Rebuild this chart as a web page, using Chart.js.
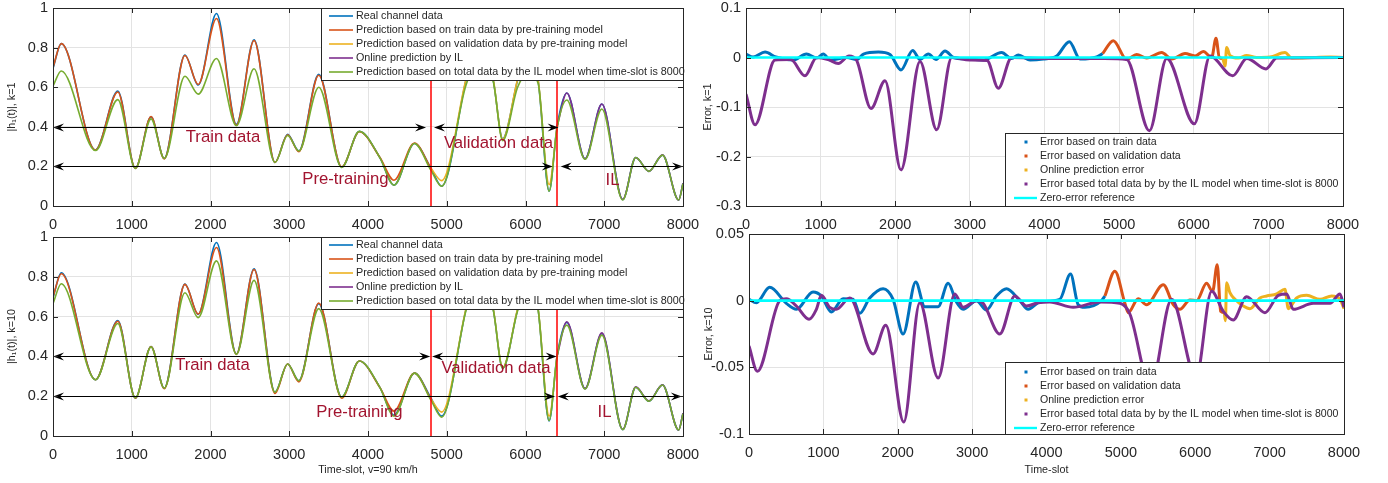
<!DOCTYPE html>
<html>
<head>
<meta charset="utf-8">
<script src="https://cdn.jsdelivr.net/npm/chart.js@4.4.1/dist/chart.umd.min.js"></script>
<style>
    html, body { margin: 0; padding: 0; background: #fff; }
    body { width: 1388px; height: 483px; position: relative; overflow: hidden; }
    .panel { position: absolute; }
</style>
</head>
<body>
<div class="panel" style="left:0;top:0;width:705px;height:232px"><canvas id="channelK1"></canvas></div>
<div class="panel" style="left:0;top:228px;width:705px;height:255px"><canvas id="channelK10"></canvas></div>
<div class="panel" style="left:700px;top:0;width:688px;height:232px"><canvas id="errorK1"></canvas></div>
<div class="panel" style="left:700px;top:228px;width:688px;height:255px"><canvas id="errorK10"></canvas></div>
<script>
// ---- channel amplitude, time-slots of the turning points ----
const trainSlots = [0, 105, 540, 823, 1046, 1245, 1413, 1675, 1844, 2076, 2329, 2553, 2819, 2979, 3122, 3375, 3666, 3890, 4152, 4330, 4590, 4800];
const validSlots = [4800, 4935, 5244, 5400, 5590, 5710, 5900, 6030, 6160, 6300, 6400];
const onlineSlots = [6400, 6525, 6756, 6970, 7235, 7400, 7567, 7740, 7945, 8000];
const allSlots = trainSlots.concat(validSlots.slice(1), onlineSlots.slice(1));

const realChannel = [0.695, 0.82, 0.283, 0.58, 0.19, 0.45, 0.24, 0.763, 0.611, 0.972, 0.412, 0.84, 0.22, 0.362, 0.278, 0.665, 0.195, 0.377, 0.243, 0.105, 0.316, 0.19,
    0.1, 0.636, 0.88, 0.636, 0.34, 0.636, 0.8, 0.636, 0.075, 0.40,
    0.571, 0.238, 0.515, 0.032, 0.245, 0.175, 0.257, 0.03, 0.115];

// k = 1
const trainPredK1 = [0.70, 0.82, 0.283, 0.576, 0.19, 0.452, 0.238, 0.76, 0.614, 0.947, 0.408, 0.836, 0.22, 0.36, 0.274, 0.66, 0.197, 0.375, 0.245, 0.13, 0.318, 0.19];
const validPredK1 = [0.19, 0.128, 0.64, 0.88, 0.64, 0.337, 0.64, 0.8, 0.64, 0.108, 0.40];
const onlinePredK1 = [0.40, 0.571, 0.238, 0.515, 0.033, 0.245, 0.175, 0.258, 0.03, 0.115];
const totalPredK1 = [0.606, 0.682, 0.28, 0.537, 0.19, 0.44, 0.24, 0.655, 0.565, 0.745, 0.405, 0.693, 0.22, 0.356, 0.278, 0.60, 0.195, 0.377, 0.243, 0.105, 0.316, 0.18,
    0.1, 0.61, 0.73, 0.63, 0.33, 0.60, 0.67, 0.62, 0.075, 0.39,
    0.535, 0.236, 0.49, 0.03, 0.245, 0.175, 0.257, 0.03, 0.112];

// k = 10
const trainPredK10 = [0.70, 0.815, 0.283, 0.577, 0.19, 0.45, 0.238, 0.762, 0.613, 0.947, 0.41, 0.837, 0.214, 0.362, 0.272, 0.668, 0.19, 0.377, 0.243, 0.125, 0.316, 0.185];
const validPredK10 = [0.185, 0.12, 0.64, 0.89, 0.64, 0.345, 0.64, 0.81, 0.64, 0.1, 0.40];
const onlinePredK10 = [0.40, 0.574, 0.238, 0.518, 0.033, 0.247, 0.177, 0.257, 0.03, 0.115];
const totalPredK10 = [0.665, 0.765, 0.283, 0.565, 0.192, 0.448, 0.24, 0.72, 0.595, 0.88, 0.41, 0.782, 0.22, 0.362, 0.278, 0.64, 0.195, 0.377, 0.243, 0.1, 0.316, 0.18,
    0.095, 0.63, 0.82, 0.635, 0.34, 0.63, 0.75, 0.636, 0.078, 0.395,
    0.557, 0.236, 0.507, 0.032, 0.245, 0.175, 0.256, 0.03, 0.112];

// ---- prediction errors, k = 1 ----
const trainErrSlotsK1 = [0, 94, 255, 400, 634, 810, 947, 1036, 1126, 1350, 1484, 1574, 1774, 1930, 2077, 2233, 2332, 2443, 2546, 2667, 2780, 2958, 3181, 3426, 3560, 3649, 3806, 3984, 4163, 4333, 4476, 4700, 4780];
const trainErrK1 = [0.007, 0.001, 0.011, 0.001, -0.005, 0.007, -0.001, 0.007, -0.005, 0, -0.004, 0.007, 0.011, 0.006, -0.025, 0.014, -0.004, 0.007, -0.004, 0.013, 0, -0.003, -0.005, 0.01, -0.002, 0.005, -0.005, -0.003, 0.003, 0.032, -0.003, 0.001, 0.008];
const validErrSlotsK1 = [4780, 4922, 5101, 5235, 5369, 5571, 5705, 5883, 6017, 6128, 6240, 6298, 6343, 6390];
const validErrK1 = [0.008, 0.034, -0.004, 0.006, -0.001, 0.01, -0.003, 0.008, 0.003, 0.012, 0, 0.039, 0, -0.002];
const onlineErrSlotsK1 = [6390, 6420, 6441, 6486, 6597, 6709, 6843, 7022, 7223, 7312, 7603, 7826, 8000];
const onlineErrK1 = [-0.002, -0.017, 0.02, 0.004, -0.001, 0.004, 0, 0.001, 0.01, -0.001, 0, 0.001, 0];
const totalErrSlotsK1 = [0, 121, 389, 600, 790, 947, 1100, 1237, 1381, 1480, 1675, 1863, 2077, 2332, 2555, 2757, 3000, 3230, 3381, 3560, 4000, 4800, 5101, 5405, 5638, 6008, 6218, 6522, 6710, 6968, 7111, 8000];
const totalErrK1 = [-0.074, -0.136, -0.005, -0.004, -0.037, 0, -0.004, -0.012, 0.003, -0.005, -0.103, -0.047, -0.227, -0.008, -0.146, 0, -0.005, -0.006, -0.062, 0, -0.002, -0.002, -0.004, -0.148, -0.002, -0.134, 0.003, -0.037, -0.002, -0.023, -0.001, 0];

// ---- prediction errors, k = 10 ----
const trainErrSlotsK10 = [0, 99, 278, 502, 637, 861, 973, 1108, 1265, 1399, 1489, 1623, 1803, 1937, 2072, 2242, 2363, 2543, 2677, 2789, 2879, 3058, 3193, 3327, 3462, 3641, 3753, 3910, 4179, 4323, 4426, 4516, 4740, 4785];
const trainErrK10 = [0.001, -0.0015, 0.01, -0.002, -0.0065, 0.0065, 0.0035, -0.0085, 0.0015, 0.001, -0.0095, 0.002, 0.009, 0.001, -0.025, 0.014, -0.0045, -0.0045, 0.013, -0.001, -0.0065, 0, -0.007, 0.0035, 0.009, 0, -0.0065, -0.001, 0.001, 0.02, -0.003, -0.005, 0, 0.0035];
const validErrSlotsK10 = [4785, 4919, 5054, 5099, 5233, 5345, 5570, 5704, 5794, 5928, 6018, 6152, 6233, 6296, 6341, 6390];
const validErrK10 = [0.0035, 0.022, -0.002, -0.009, 0.0015, -0.003, 0.012, -0.003, -0.0065, 0.0005, 0, 0.013, 0.007, 0.027, -0.008, -0.009];
const onlineErrSlotsK10 = [6390, 6405, 6422, 6466, 6534, 6646, 6735, 6870, 6960, 7094, 7206, 7251, 7363, 7498, 7677, 7834, 7946, 8000];
const onlineErrK10 = [-0.009, -0.015, 0.0135, 0.006, 0.001, -0.004, -0.006, 0.002, 0.0035, 0.005, 0.0085, -0.006, 0.002, 0.004, 0.001, 0.0035, 0.001, -0.006];
const totalErrSlotsK10 = [0, 112, 413, 502, 637, 807, 906, 973, 1085, 1175, 1354, 1668, 1839, 2081, 2296, 2543, 2767, 2879, 3058, 3148, 3372, 3574, 3731, 3888, 4045, 4359, 4717, 4987, 5121, 5400, 5682, 6010, 6220, 6377, 6511, 6691, 6937, 7117, 7229, 7318, 7587, 7812, 7946, 8000];
const totalErrK10 = [-0.034, -0.053, 0, 0.0015, -0.004, -0.014, -0.0065, 0.004, -0.005, -0.0065, 0.002, -0.04, -0.0185, -0.091, -0.0015, -0.058, 0.005, -0.005, 0, -0.002, -0.025, 0.0035, -0.004, -0.0015, -0.001, -0.005, -0.001, -0.002, -0.01, -0.065, 0.001, -0.058, 0.007, -0.008, -0.0145, 0.003, -0.009, 0.004, 0.005, -0.0065, -0.002, -0.002, 0.005, -0.005];

const zeroSlots = [0, 8000];
const zeroErr = [0, 0];

// ---- phase annotations (data units) ----
const splitSlots = [4800, 6400];
const phaseNames = ['Train data', 'Validation data', 'Pre-training', 'IL'];
const arrowLevels = [0.4, 0.4, 0.2, 0.2];
const arrowFromK1 = [0, 4838, 0, 6447];
const arrowToK1 = [4737, 6420, 6346, 8000];
const labelXK1 = [2159, 5657, 3714, 7105];
const labelYK1 = [0.348, 0.318, 0.136, 0.131];
const arrowFromK10 = [0, 4815, 0, 6410];
const arrowToK10 = [4790, 6395, 6375, 7985];
const labelXK10 = [2025, 5625, 3892, 7003];
const labelYK10 = [0.356, 0.341, 0.12, 0.12];

const FONT = '"Liberation Sans", Arial, Helvetica, sans-serif';
const INK = '#262626';
const GRID = '#e3e3e3';
const colors = {
    blue: '#0072BD', orange: '#D95319', yellow: '#EDB120', purple: '#7E2F8E',
    green: '#77AC30', cyan: '#00FFFF', crimson: '#A2142F', red: '#FF0000'
};

function pairs(xs, ys) {
    return xs.map((x, i) => ({ x: x, y: ys[i] }));
}

function arrowHead(ctx, tip, py, dir) {
    ctx.beginPath();
    ctx.moveTo(tip, py);
    ctx.lineTo(tip - dir * 11, py - 4);
    ctx.lineTo(tip - dir * 7, py);
    ctx.lineTo(tip - dir * 11, py + 4);
    ctx.closePath();
    ctx.fill();
}

// red split lines, double arrows and phase names
const phaseMarks = {
    id: 'phaseMarks',
    afterDatasetsDraw(chart, args, o) {
        if (!o || !o.arrowFrom) return;
        const { ctx, chartArea: a, scales: { x, y } } = chart;
        ctx.save();
        ctx.strokeStyle = colors.red;
        ctx.lineWidth = 1.5;
        splitSlots.forEach(v => {
            const px = x.getPixelForValue(v);
            ctx.beginPath();
            ctx.moveTo(px, a.top);
            ctx.lineTo(px, a.bottom);
            ctx.stroke();
        });
        ctx.strokeStyle = '#000';
        ctx.fillStyle = '#000';
        ctx.lineWidth = 1.2;
        o.arrowFrom.forEach((f, i) => {
            const x0 = x.getPixelForValue(f);
            const x1 = x.getPixelForValue(o.arrowTo[i]);
            const py = Math.round(y.getPixelForValue(arrowLevels[i])) + 0.5;
            ctx.beginPath();
            ctx.moveTo(x0 + 6, py);
            ctx.lineTo(x1 - 6, py);
            ctx.stroke();
            arrowHead(ctx, x0, py, -1);
            arrowHead(ctx, x1, py, 1);
        });
        ctx.fillStyle = colors.crimson;
        ctx.font = '16.7px ' + FONT;
        ctx.textAlign = 'center';
        ctx.textBaseline = 'middle';
        phaseNames.forEach((n, i) => {
            ctx.fillText(n, x.getPixelForValue(o.labelX[i]), y.getPixelForValue(o.labelY[i]));
        });
        ctx.restore();
    }
};

// MATLAB style box with inward ticks
const axesBox = {
    id: 'axesBox',
    afterDatasetsDraw(chart) {
        const { ctx, chartArea: a, scales: { x, y } } = chart;
        ctx.save();
        ctx.strokeStyle = INK;
        ctx.lineWidth = 1;
        ctx.beginPath();
        x.ticks.forEach(t => {
            const px = Math.round(x.getPixelForValue(t.value)) + 0.5;
            ctx.moveTo(px, a.bottom); ctx.lineTo(px, a.bottom - 5);
            ctx.moveTo(px, a.top); ctx.lineTo(px, a.top + 5);
        });
        y.ticks.forEach(t => {
            const py = Math.round(y.getPixelForValue(t.value)) + 0.5;
            ctx.moveTo(a.left, py); ctx.lineTo(a.left + 5, py);
            ctx.moveTo(a.right, py); ctx.lineTo(a.right - 5, py);
        });
        ctx.stroke();
        ctx.strokeRect(Math.round(a.left) + 0.5, Math.round(a.top) + 0.5,
            Math.round(a.right - a.left), Math.round(a.bottom - a.top));
        ctx.restore();
    }
};

// boxed legend inside the axes, white background
const boxLegend = {
    id: 'boxLegend',
    afterDraw(chart, args, o) {
        if (!o || !o.width) return;
        const { ctx, chartArea: a } = chart;
        const left = Math.round(a.right - o.width);
        const top = Math.round(o.atBottom ? a.bottom - o.height : a.top);
        ctx.save();
        ctx.fillStyle = '#fff';
        ctx.fillRect(left, top, o.width, o.height);
        ctx.strokeStyle = INK;
        ctx.lineWidth = 1;
        ctx.strokeRect(left + 0.5, top + 0.5, o.width, o.height);
        ctx.font = (o.fontSize || 10.75) + 'px ' + FONT;
        ctx.textBaseline = 'middle';
        ctx.textAlign = 'left';
        chart.data.datasets.forEach((ds, i) => {
            const py = top + o.firstRow + i * o.rowGap;
            ctx.strokeStyle = ds.borderColor;
            ctx.fillStyle = ds.borderColor;
            if (o.dots && !ds.legendLine) {
                ctx.fillRect(left + o.dotX - 1.5, py - 1.5, 3, 3);
            } else {
                ctx.lineWidth = ds.legendWidth || ds.borderWidth;
                ctx.beginPath();
                ctx.moveTo(left + o.lineFrom, py);
                ctx.lineTo(left + o.lineTo, py);
                ctx.stroke();
            }
            ctx.fillStyle = INK;
            ctx.fillText(ds.label, left + o.textX, py);
        });
        ctx.restore();
    }
};

function lineSet(label, data, color, order, width) {
    return {
        label: label, data: data, borderColor: color, backgroundColor: color,
        borderWidth: width, pointRadius: 0, fill: false, order: order,
        cubicInterpolationMode: 'monotone'
    };
}

function xAxis(axisHeight, title, titlePad) {
    return {
        type: 'linear', min: 0, max: 8000,
        grid: { color: GRID, drawTicks: false },
        border: { display: false },
        ticks: {
            stepSize: 1000, autoSkip: false, maxRotation: 0, padding: 10,
            color: INK, font: { family: FONT, size: 14.5 },
            callback: v => String(v)
        },
        title: {
            display: !!title, text: title || '', color: INK,
            font: { family: FONT, size: 10.75 }, padding: { top: 0, bottom: titlePad || 0 }
        },
        afterFit(s) { s.height = axisHeight; s.paddingLeft = 0; s.paddingRight = 0; }
    };
}

function yAxis(axisWidth, min, max, step, title, titlePad) {
    return {
        type: 'linear', min: min, max: max,
        grid: { color: GRID, drawTicks: false },
        border: { display: false },
        ticks: {
            stepSize: step, padding: 5, color: INK, font: { family: FONT, size: 14.5 },
            callback: v => String(+v.toFixed(3))
        },
        title: {
            display: true, text: title, color: INK,
            font: { family: FONT, size: 10.75 }, padding: { top: titlePad, bottom: 0 }
        },
        afterFit(s) { s.width = axisWidth; s.paddingTop = 0; s.paddingBottom = 0; }
    };
}

function channelChart(id, k, preds, marks, frame) {
    const [train, valid, online, total] = preds;
    const datasets = [
        lineSet('Real channel data', pairs(allSlots, realChannel), colors.blue, 5, 1.6),
        lineSet('Prediction based on train data by pre-training model', pairs(trainSlots, train), colors.orange, 4, 1.6),
        lineSet('Prediction based on validation data by pre-training model', pairs(validSlots, valid), colors.yellow, 3, 1.6),
        lineSet('Online prediction by IL', pairs(onlineSlots, online), colors.purple, 2, 1.6),
        lineSet('Prediction based on total data by the IL model when time-slot is 8000', pairs(allSlots, total), colors.green, 1, 1.6)
    ];
    return new Chart(document.getElementById(id), {
        type: 'line',
        data: { datasets: datasets },
        plugins: [phaseMarks, axesBox, boxLegend],
        options: {
            responsive: true, maintainAspectRatio: false, animation: false, events: [],
            layout: { padding: frame.padding },
            scales: {
                x: xAxis(frame.xHeight, frame.xTitle, frame.xTitlePad),
                y: yAxis(53, 0, 1, 0.2, '|h\u2081(t)|, k=' + k, frame.yTitlePad)
            },
            plugins: {
                legend: { display: false },
                tooltip: { enabled: false },
                phaseMarks: marks,
                boxLegend: { width: 362, height: 72, firstRow: 8, rowGap: 14, lineFrom: 8, lineTo: 32, textX: 35 }
            }
        }
    });
}

function errorChart(id, k, series, yRange, frame) {
    const [trainS, trainE, validS, validE, onlineS, onlineE, totalS, totalE] = series;
    const datasets = [
        lineSet('Error based on train data', pairs(trainS, trainE), colors.blue, 5, 3),
        lineSet('Error based on validation data', pairs(validS, validE), colors.orange, 4, 3),
        lineSet('Online prediction error', pairs(onlineS, onlineE), colors.yellow, 3, 3),
        lineSet('Error based total data by by the IL model when time-slot is 8000', pairs(totalS, totalE), colors.purple, 2, 3),
        Object.assign(lineSet('Zero-error reference', pairs(zeroSlots, zeroErr), colors.cyan, 1, 2.6), { legendLine: true, legendWidth: 2.4 })
    ];
    return new Chart(document.getElementById(id), {
        type: 'line',
        data: { datasets: datasets },
        plugins: [axesBox, boxLegend],
        options: {
            responsive: true, maintainAspectRatio: false, animation: false, events: [],
            layout: { padding: frame.padding },
            scales: {
                x: xAxis(frame.xHeight, frame.xTitle, frame.xTitlePad),
                y: yAxis(frame.yWidth, yRange[0], yRange[1], yRange[2], 'Error, k=' + k, frame.yTitlePad)
            },
            plugins: {
                legend: { display: false },
                tooltip: { enabled: false },
                boxLegend: {
                    width: frame.legendWidth, height: frame.legendHeight, atBottom: true, dots: true,
                    firstRow: frame.legendRow, rowGap: 14, dotX: 21, lineFrom: 9, lineTo: 32, textX: 35,
                    fontSize: 10.55
                }
            }
        }
    });
}

channelChart('channelK1', 1, [trainPredK1, validPredK1, onlinePredK1, totalPredK1],
    { arrowFrom: arrowFromK1, arrowTo: arrowToK1, labelX: labelXK1, labelY: labelYK1 },
    { padding: { top: 8, right: 22, left: 0, bottom: 0 }, xHeight: 26, yTitlePad: 5.5 });

channelChart('channelK10', 10, [trainPredK10, validPredK10, onlinePredK10, totalPredK10],
    { arrowFrom: arrowFromK10, arrowTo: arrowToK10, labelX: labelXK10, labelY: labelYK10 },
    { padding: { top: 9, right: 22, left: 0, bottom: 0 }, xHeight: 47, xTitle: 'Time-slot, v=90 km/h', xTitlePad: 6.5, yTitlePad: 5.5 });

errorChart('errorK1', 1,
    [trainErrSlotsK1, trainErrK1, validErrSlotsK1, validErrK1, onlineErrSlotsK1, onlineErrK1, totalErrSlotsK1, totalErrK1],
    [-0.3, 0.1, 0.1],
    { padding: { top: 8, right: 45, left: 0, bottom: 0 }, xHeight: 26, yWidth: 46, yTitlePad: 1.5,
      legendWidth: 338, legendHeight: 73, legendRow: 9 });

errorChart('errorK10', 10,
    [trainErrSlotsK10, trainErrK10, validErrSlotsK10, validErrK10, onlineErrSlotsK10, onlineErrK10, totalErrSlotsK10, totalErrK10],
    [-0.1, 0.05, 0.05],
    { padding: { top: 6, right: 44, left: 0, bottom: 0 }, xHeight: 49, yWidth: 49, yTitlePad: 2.5,
      xTitle: 'Time-slot', xTitlePad: 6.5, legendWidth: 339, legendHeight: 72, legendRow: 10 });
</script>
</body>
</html>
